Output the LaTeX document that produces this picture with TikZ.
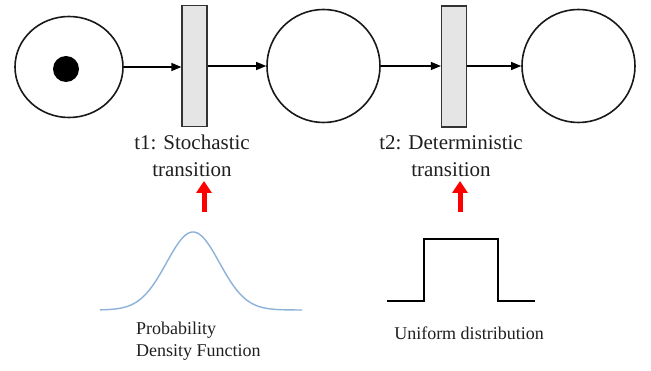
\documentclass[tikz,border=0pt]{standalone}
\usepackage{fontspec}
\setmainfont{Liberation Serif}
\usetikzlibrary{arrows.meta,shapes.geometric}
\begin{document}
\begin{tikzpicture}[x=1pt,y=-1pt,
  place/.style={draw=black!90,line width=1.6pt,circle,minimum size=113pt,inner sep=0pt},
  trans/.style={draw=black!80,line width=1.2pt,fill=black!10,minimum width=25pt,minimum height=121pt,inner sep=0pt},
  arc/.style={line width=1.2pt,-{Triangle[width=8pt,length=10pt]}},
  redarr/.style={red,line width=5pt,-{Triangle[width=15pt,length=12pt]}},
  lbl/.style={font=\fontsize{21}{27}\selectfont,text=black!88,align=center,inner sep=0pt},
  small/.style={font=\fontsize{18}{22}\selectfont,text=black!88,align=left,inner sep=0pt}]
\useasboundingbox (0,0) rectangle (651,371);
\node[place,ellipse,minimum width=108pt,minimum height=101pt] (p1) at (69,67) {};
\node[circle,fill=black,minimum size=26pt,inner sep=0pt] (tok) at (66,69) {};
\node[trans] (t1) at (194.5,66) {};
\node[place] (p2) at (323.5,66) {};
\node[trans] (t2) at (454,66.5) {};
\node[place] (p3) at (578.5,66) {};
\draw[arc] (p1.east) -- (p1.east -| t1.west);
\draw[arc] (t1.east |- p2.west) -- (p2.west);
\draw[arc] (p2.east) -- (p2.east -| t2.west);
\draw[arc] (t2.east |- p3.west) -- (p3.west);
\node[lbl] (l1) at (192,156) {t1: Stochastic\\transition};
\node[lbl] (l2) at (451,156) {t2: Deterministic\\transition};
\coordinate (a1s) at (204,212);
\coordinate (a1e) at (204,181);
\coordinate (a2s) at (460,212);
\coordinate (a2e) at (460,181);
\draw[redarr] (a1s) -- (a1e);
\draw[redarr] (a2s) -- (a2e);
\draw[color={rgb,255:red,140;green,178;blue,218},line width=1.4pt] plot[domain=100:302,samples=120,smooth] (\x,{310-78*exp(-((\x-193)*(\x-193))/1400)});
\draw[line width=2.6pt,line join=miter] (387,301) -- (424,301) -- (424,239) -- (498,239) -- (498,301) -- (535,301);
\node[small,anchor=north west] (pdf) at (136,322) {Probability\\Density Function};
\node[small] (uni) at (469,333) {Uniform distribution};
\end{tikzpicture}
\end{document}
